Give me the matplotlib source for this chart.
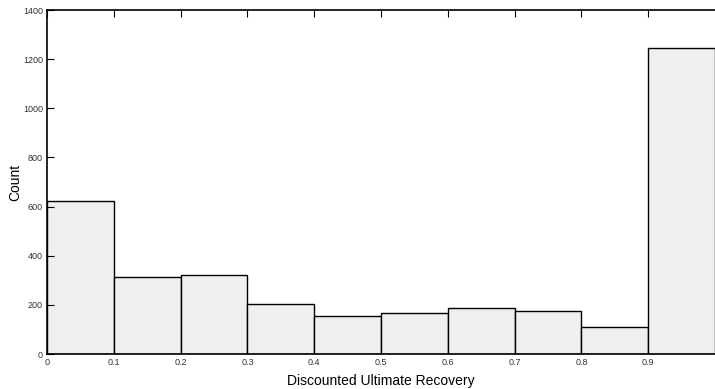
import matplotlib
matplotlib.use("Agg")
import matplotlib.pyplot as plt
import numpy as np

# histogram bins of discounted ultimate recovery
bin_edges = [0.0, 0.1, 0.2, 0.3, 0.4, 0.5, 0.6, 0.7, 0.8, 0.9, 1.0]
counts = [623, 313, 321, 203, 155, 167, 187, 175, 110, 1245]
x_ticks = [0, 0.1, 0.2, 0.3, 0.4, 0.5, 0.6, 0.7, 0.8, 0.9]
x_tick_labels = ["0", "0.1", "0.2", "0.3", "0.4", "0.5", "0.6", "0.7", "0.8", "0.9"]
y_ticks = [0, 200, 400, 600, 800, 1000, 1200, 1400]

plt.rcParams['font.family'] = ['Liberation Sans', 'DejaVu Sans']

fig = plt.figure(figsize=(7.15, 3.89), dpi=100)
ax = fig.add_axes([47/715, 35/389, 668/715, 344/389])

widths = np.diff(bin_edges)
ax.bar(bin_edges[:-1], counts, width=widths, align="edge",
       color="#efefef", edgecolor="black", linewidth=1.0)

ax.set_xlim(0, 1.0)
ax.set_ylim(0, 1400)
ax.set_xticks(x_ticks)
ax.set_xticklabels(x_tick_labels)
ax.set_yticks(y_ticks)

ax.spines['right'].set_visible(False)
for s in ['left', 'top', 'bottom']:
    ax.spines[s].set_linewidth(1.2)

ax.tick_params(axis='both', direction='in', labelsize=6.5, length=5, width=0.8,
               colors='black', labelcolor='#333333', top=True, pad=3)
ax.tick_params(axis='x', bottom=False)

# axis titles placed in figure pixels
fig.text(381/715, 1 - 381/389, "Discounted Ultimate Recovery", fontsize=10,
         ha='center', va='center')
fig.text(15/715, 1 - 182/389, "Count", fontsize=10, rotation=90,
         ha='center', va='center')

fig.savefig("out.png", dpi=100)
